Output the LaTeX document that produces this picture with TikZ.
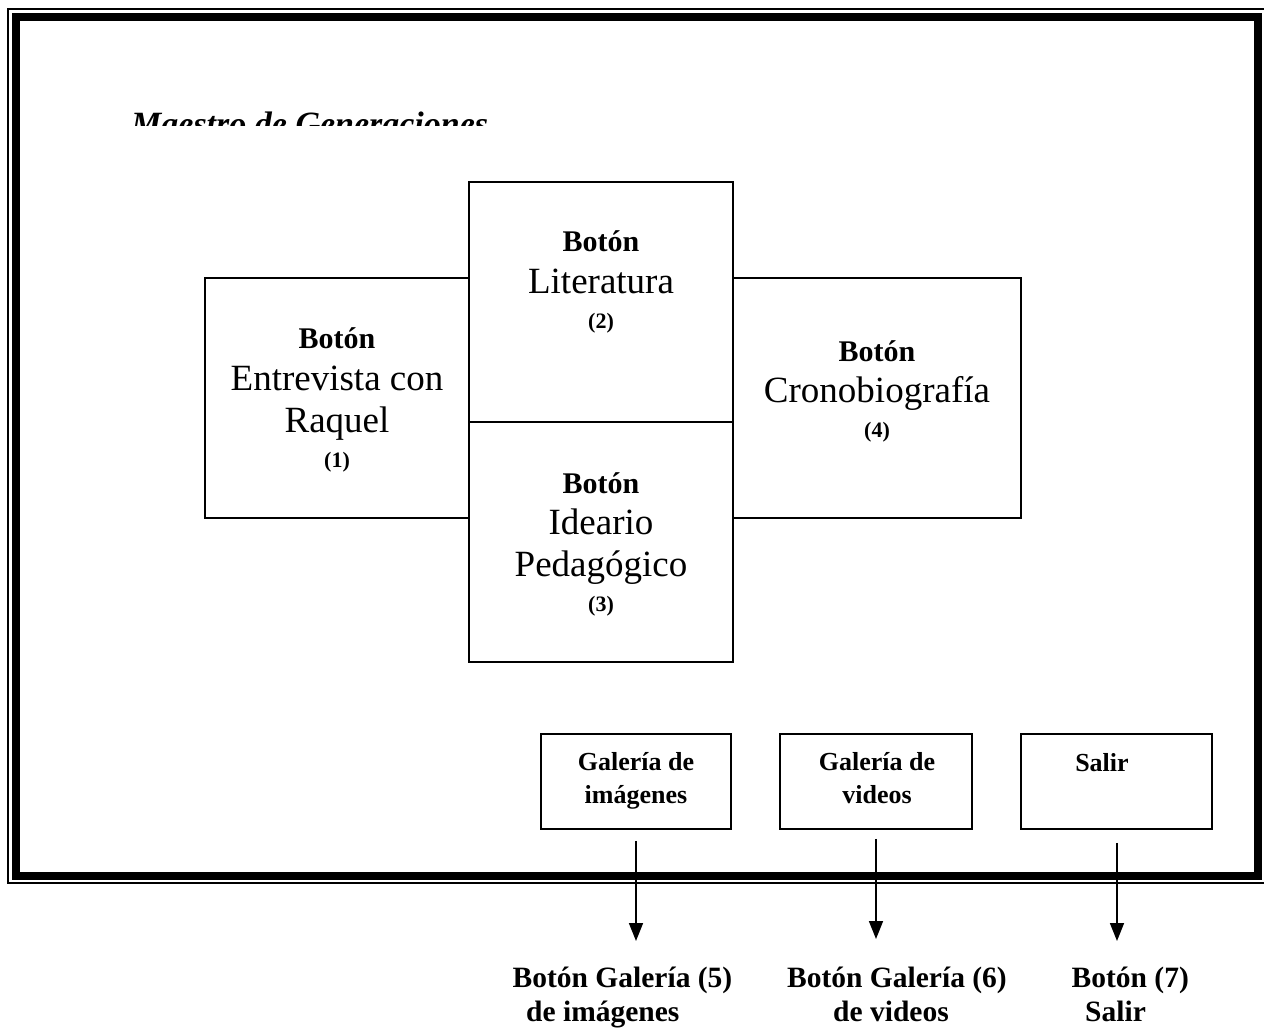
\documentclass[tikz,border=0pt]{standalone}
\usepackage{fontspec}
\setmainfont{Liberation Serif}
\usetikzlibrary{arrows.meta}
\begin{document}
\begin{tikzpicture}[x=1pt,y=-1pt,
  btnbox/.style={draw,line width=1.7pt,inner sep=0pt},
  txt/.style={inner sep=0pt,align=center,anchor=base,font=\fontsize{37}{41}\selectfont},
  smalltxt/.style={inner sep=0pt,align=center,anchor=base,font=\fontsize{26}{33}\selectfont\bfseries},
  labeltxt/.style={inner sep=0pt,align=left,anchor=base west,font=\fontsize{29.5}{34}\selectfont\bfseries},
  arr/.style={line width=1.7pt,-{Triangle[width=14pt,length=18pt]}}]
\useasboundingbox (0,0) rectangle (1264,1028);

% page frame: thin outer rule and thick inner rule
\draw[line width=1.6pt] (1275,9.2) -- (8.2,9.2) -- (8.2,883) -- (1275,883);
\draw[line width=8pt] (15.8,16.6) rectangle (1258,875.6);

% title, clipped at its lower part
\begin{scope}
  \clip (100,95) rectangle (520,125);
  \node[inner sep=0pt,anchor=base west,font=\fontsize{34}{40}\selectfont\bfseries\itshape] (title) at (131,135.5) {Maestro de Generaciones};
\end{scope}

% main buttons
\node[btnbox,minimum width=264pt,minimum height=240pt] (lit) at (601,302) {};
\node[btnbox,minimum width=264pt,minimum height=240pt] (ide) at (601,542) {};
\node[btnbox,minimum width=264pt,minimum height=240pt] (ent) at (337,398) {};
\node[btnbox,minimum width=288pt,minimum height=240pt] (cro) at (877,398) {};

% button captions (anchored at the baseline of their last line)
\node[txt] (entT) at (337,467) {{\bfseries\fontsize{30}{36}\selectfont Botón}\\[1pt]Entrevista con\\[1pt]Raquel\\[-6pt]{\fontsize{22}{26}\selectfont\bfseries (1)}};
\node[txt] (litT) at (601,328) {{\bfseries\fontsize{30}{36}\selectfont Botón}\\[1pt]Literatura\\[-6pt]{\fontsize{22}{26}\selectfont\bfseries (2)}};
\node[txt] (ideT) at (601,611) {{\bfseries\fontsize{30}{36}\selectfont Botón}\\[0pt]Ideario\\[1pt]Pedagógico\\[-6pt]{\fontsize{22}{26}\selectfont\bfseries (3)}};
\node[txt] (croT) at (877,437) {{\bfseries\fontsize{30}{36}\selectfont Botón}\\[0pt]Cronobiografía\\[-6pt]{\fontsize{22}{26}\selectfont\bfseries (4)}};

% small buttons
\node[btnbox,minimum width=190pt,minimum height=95pt] (gim) at (636,781.5) {};
\node[btnbox,minimum width=192pt,minimum height=95pt] (gvi) at (876,781.5) {};
\node[btnbox,minimum width=191pt,minimum height=95pt] (sal) at (1116.5,781.5) {};

\node[smalltxt] (gimT) at (636,803) {Galería de\\imágenes};
\node[smalltxt] (gviT) at (877,803) {Galería de\\videos};
\node[smalltxt] (salT) at (1102,771) {Salir};

% labels under the frame
\node[labeltxt] (l5) at (512.5,1021) {Botón Galería (5)\\\hspace*{13.5pt}de imágenes};
\node[labeltxt] (l6) at (787,1021) {Botón Galería (6)\\\hspace*{46pt}de videos};
\node[labeltxt] (l7) at (1071.5,1021) {Botón (7)\\\hspace*{13.5pt}Salir};

% arrows
\coordinate (t5) at (636,941);
\coordinate (t6) at (876,939);
\coordinate (t7) at (1117,941);
\draw[arr] ([yshift=-11pt]gim.south) -- (t5);
\draw[arr] ([yshift=-9pt]gvi.south) -- (t6);
\draw[arr] ([xshift=0.5pt,yshift=-13pt]sal.south) -- (t7);
\end{tikzpicture}
\end{document}
